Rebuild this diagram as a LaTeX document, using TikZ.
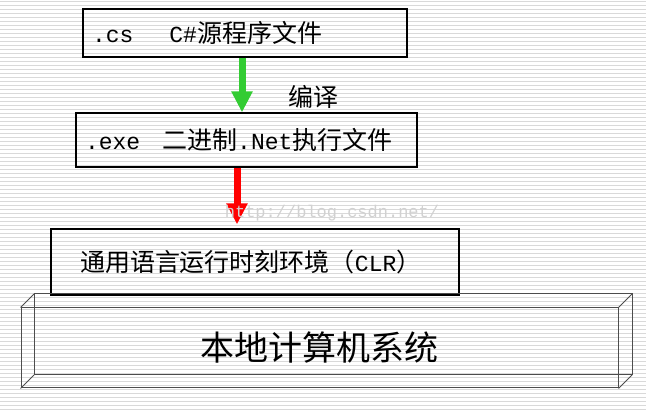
\documentclass[tikz,border=0pt]{standalone}
\usepackage{fontspec}
\setmainfont{Noto Sans CJK SC}
\setmonofont{Liberation Mono}
\usetikzlibrary{positioning,arrows.meta}
\definecolor{arrgreen}{RGB}{51,204,51}
\newcommand\lat[1]{{\fontsize{23}{23}\selectfont\ttfamily #1}}

\begin{document}
\begin{tikzpicture}[x=1pt,y=-1pt,
  box/.style={draw, line width=1.2pt, rectangle, align=left, inner ysep=0pt,
    font=\fontsize{25}{25}\selectfont},
  fat/.style={line width=7pt, -{Triangle[width=20pt,length=21pt]}}]
\useasboundingbox (0,0) rectangle (646,411);
% Hintergrund mit Streifen
\foreach \y in {0,...,102}
  \draw[line width=1.3pt, black!15] (0,1.5+4*\y) -- (646,1.5+4*\y);

\node[box, minimum width=324pt, minimum height=48pt, text width=306pt, inner xsep=9pt]
  (cs) at (245,33) {\lat{.cs}\hspace{36pt}\lat{C\#}源程序文件};
\node[box, minimum width=341pt, minimum height=54pt, text width=323pt, inner xsep=9pt]
  (exe) at (246.5,140) {\lat{.exe}\hspace{22pt}二进制\lat{.Net}执行文件};
\node[box, minimum width=408pt, minimum height=66pt, text width=350pt, inner xsep=29pt]
  (clr) at (255,262) {通用语言运行时刻环境（\lat{CLR}）};

\draw[fat, arrgreen] ([xshift=-3pt]cs.south) -- ([xshift=-3pt]cs.south |- exe.north);
\node[font=\fontsize{25}{25}\selectfont] (bianyi) at (313,97) {编译};
\draw[fat, red, shorten >=4pt] ([xshift=-9.5pt]exe.south) -- ([xshift=-9.5pt]exe.south |- clr.north);
\node[text=black!18, font=\fontsize{17}{17}\selectfont\ttfamily] (wm) at (332,213) {http://blog.csdn.net/};

% Quader unten
\begin{scope}[line width=1pt, black!70]
 \node[draw, minimum width=597pt, minimum height=80pt, inner sep=0pt, text=black,
   font=\fontsize{34}{34}\selectfont] (sys) at (319.5,348) {本地计算机系统};
 \draw ([shift={(13.5,-13.5)}]sys.north west) rectangle ([shift={(13.5,-13.5)}]sys.south east);
 \foreach \c in {north west, north east, south west, south east}
   \draw (sys.\c) -- ([shift={(13.5,-13.5)}]sys.\c);
\end{scope}
\end{tikzpicture}
\end{document}
